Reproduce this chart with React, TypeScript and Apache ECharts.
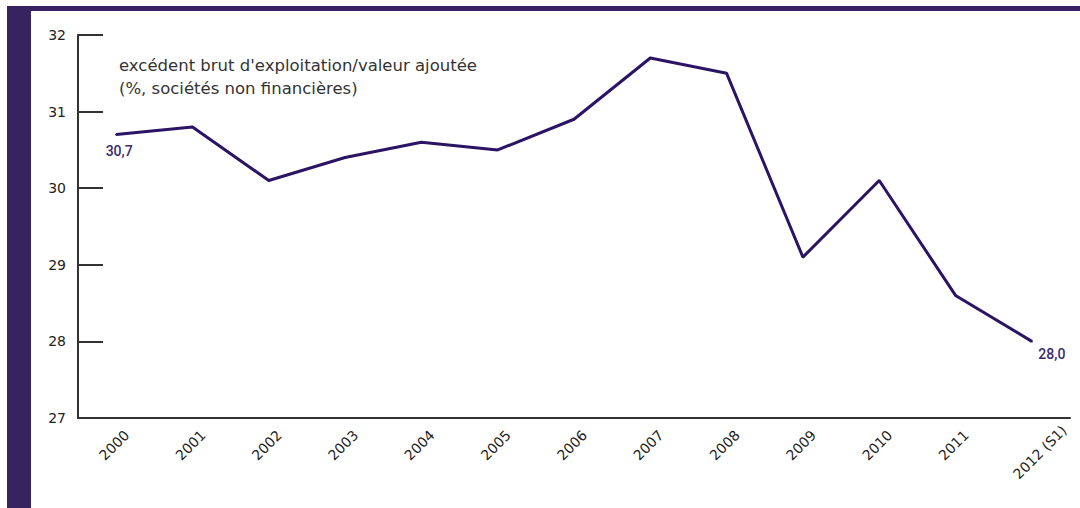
import React, { useEffect, useRef } from "react";
import * as echarts from "echarts";

const categories = ["2000", "2001", "2002", "2003", "2004", "2005", "2006", "2007", "2008", "2009", "2010", "2011", "2012 (S1)"];
const ebeRatio = [30.7, 30.8, 30.1, 30.4, 30.6, 30.5, 30.9, 31.7, 31.5, 29.1, 30.1, 28.6, 28.0];
const yTicks = { min: 27, max: 32, interval: 1 };
const titleLines = ["excédent brut d'exploitation/valeur ajoutée", "(%, sociétés non financières)"];

const PURPLE = "#36235f";
const LINE = "#2b1463";
const FONT = "'DejaVu Sans', Roboto, sans-serif";

export default function App() {
  const ref = useRef<HTMLDivElement>(null);
  useEffect(() => {
    document.body.style.margin = "0";
    const chart = echarts.init(ref.current!, null, { renderer: "svg" });
    const fmt = (v: number) => v.toFixed(1).replace(".", ",");
    const last = ebeRatio.length - 1;
    chart.setOption({
      animation: false,
      backgroundColor: "#ffffff",
      grid: { left: 78, right: 10, top: 35, bottom: 90 },
      graphic: [
        { type: "rect", left: 7, top: 6, shape: { width: 24, height: 502 }, style: { fill: PURPLE } },
        { type: "rect", left: 7, top: 6, shape: { width: 1073, height: 5 }, style: { fill: PURPLE } },
        {
          type: "text",
          left: 119,
          top: 54,
          style: { text: titleLines.join("\n"), font: `16.5px ${FONT}`, fill: "#333333", lineHeight: 23 },
        },
      ],
      xAxis: {
        type: "category",
        data: categories.map((c) =>
          c.length > 4
            ? { value: c, textStyle: { align: "left", verticalAlign: "top", padding: [20, 0, 0, -50] } }
            : c
        ),
        boundaryGap: true,
        axisLine: { lineStyle: { color: "#333333", width: 2 } },
        axisTick: { inside: true, length: 9, lineStyle: { color: "#333333", width: 2 } },
        axisLabel: {
          interval: 0,
          rotate: 45,
          margin: 4,
          verticalAlign: "top",
          padding: [8, 0, 0, 0],
          color: "#222222",
          fontSize: 14,
          fontFamily: FONT,
        },
        splitLine: { show: false },
      },
      yAxis: {
        type: "value",
        min: yTicks.min,
        max: yTicks.max,
        interval: yTicks.interval,
        axisLine: { show: true, lineStyle: { color: "#333333", width: 2 } },
        axisTick: { show: true, inside: true, length: 25, lineStyle: { color: "#333333", width: 2 } },
        axisLabel: { margin: 12, color: "#222222", fontSize: 14, fontFamily: FONT },
        splitLine: { show: false },
      },
      series: [
        {
          type: "line",
          data: ebeRatio.map((v, i) => {
            if (i === 0) {
              return { value: v, label: { show: true, position: "bottom", distance: 8, offset: [3, 0] } };
            }
            if (i === last) {
              return { value: v, label: { show: true, position: "bottom", distance: 5, offset: [20, 0] } };
            }
            return v;
          }),
          symbol: "circle",
          symbolSize: 2,
          itemStyle: { color: LINE },
          lineStyle: { color: LINE, width: 3 },
          label: {
            show: false,
            formatter: (p: any) => fmt(p.value),
            color: "#3a2a6e",
            fontSize: 14,
            fontWeight: 500,
            fontFamily: "Roboto, sans-serif",
          },
        },
      ],
    });
    return () => chart.dispose();
  }, []);
  return <div ref={ref} style={{ position: "fixed", left: 0, top: 0, width: 1080, height: 508 }} />;
}
